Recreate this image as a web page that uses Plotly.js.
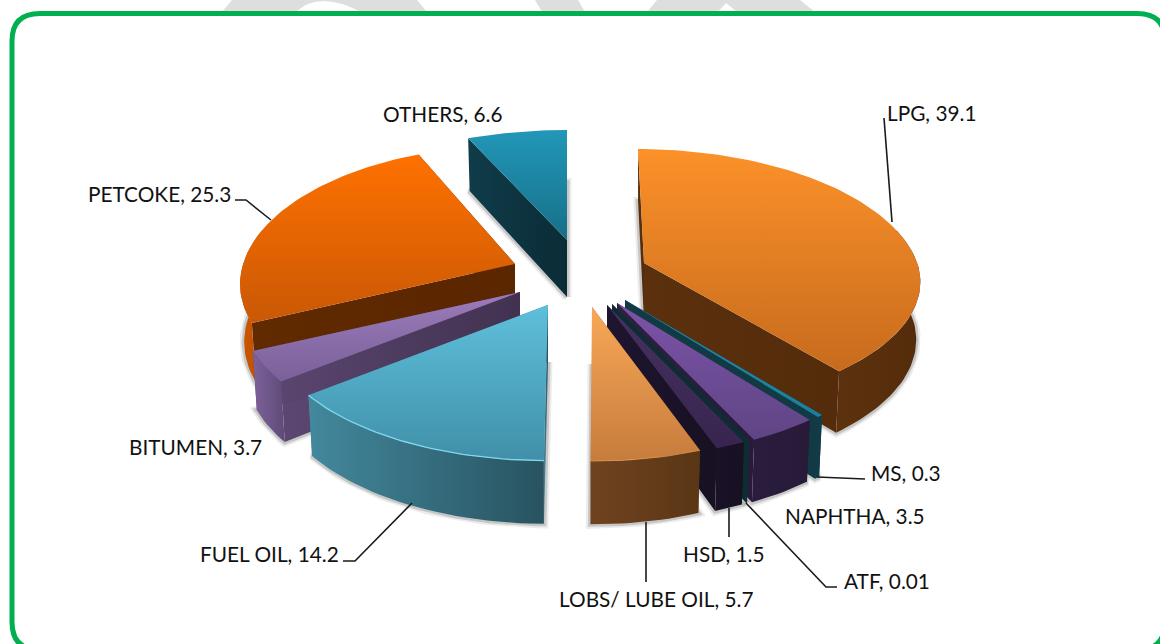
<!DOCTYPE html>
<html>
<head>
<meta charset="utf-8">
<script src="https://cdn.plot.ly/plotly-3.0.1.min.js"></script>
<style>html,body{margin:0;padding:0;background:#fff}#chart{width:1160px;height:644px}</style>
</head>
<body>
<div id="chart"></div>
<script>
const categories = ["LPG","MS","NAPHTHA","ATF","HSD","LOBS/ LUBE OIL","FUEL OIL","BITUMEN","PETCOKE","OTHERS"];
const values = [39.1,0.3,3.5,0.01,1.5,5.7,14.2,3.7,25.3,6.6];

// Where each exploded slice's tip sits, and small per-slice view corrections.
const placement = {
  "LPG":{ax:644,ay:263,leanUp:-6,leanDown:0,rx:0.99,up:1,down:0.94},
  "MS":{ax:625,ay:300,leanUp:0,leanDown:0,rx:1,up:1,down:1},
  "NAPHTHA":{ax:617,ay:303,leanUp:0,leanDown:0,rx:1,up:1,down:1},
  "ATF":{ax:612,ay:304,leanUp:0,leanDown:0,rx:1,up:1,down:1},
  "HSD":{ax:607,ay:305,leanUp:0,leanDown:0,rx:1,up:1,down:1},
  "LOBS/ LUBE OIL":{ax:592,ay:307,leanUp:0,leanDown:1.5,rx:0.97,up:1,down:1},
  "FUEL OIL":{ax:548,ay:305,leanUp:0,leanDown:-1,rx:1,up:1,down:1.01},
  "BITUMEN":{ax:520,ay:292,leanUp:0,leanDown:0,rx:1,up:1,down:1},
  "PETCOKE":{ax:515,ay:264,leanUp:0,leanDown:0,rx:0.985,up:1.04,down:1},
  "OTHERS":{ax:567,ay:240,leanUp:0,leanDown:0,rx:1.01,up:0.965,down:1}
};
const paint = {
  "LPG":{top:["#FC9129","#C76B1D"],rim:["#5C320E","#552C0B"],side:["#5A300D","#552C0B"],bevel:0,bevelColor:"#D98A3E"},
  "MS":{top:["#1F8FB0","#1A7F9C"],rim:["#113C47","#113C47"],side:["#123A45","#123A45"],bevel:0,bevelColor:"#1F8FB0"},
  "NAPHTHA":{top:["#7C53A8","#5F4585"],rim:["#2A1C3D","#281A38"],side:["#2F2044","#281A38"],bevel:0,bevelColor:"#7553A0"},
  "ATF":{top:["#1A5F6E","#154F5C"],rim:["#0B3036","#0B3036"],side:["#0C2E33","#0C2E33"],bevel:0,bevelColor:"#154F5C"},
  "HSD":{top:["#46315F","#38254F"],rim:["#1A1228","#171122"],side:["#1E1530","#171122"],bevel:0,bevelColor:"#38254F"},
  "LOBS/ LUBE OIL":{top:["#F9A858","#C67C3C"],rim:["#704320","#5A3615"],side:["#704320","#5A3615"],bevel:0.8,bevelColor:"#D9934F"},
  "FUEL OIL":{top:["#5EC0DB","#418FA8"],rim:["#43889D","#285360"],side:["#43889D","#285360"],bevel:1.3,bevelColor:"#7FD8EE"},
  "BITUMEN":{top:["#9C7CBA","#7A6099"],rim:["#7D629A","#5E4A78"],side:["#5C4772","#423250"],bevel:0,bevelColor:"#9074AE"},
  "PETCOKE":{top:["#FF7100","#C95805"],rim:["#CC5800","#B84E00"],side:["#612A00","#5A2600"],bevel:0,bevelColor:"#FF8A2A"},
  "OTHERS":{top:["#2297B8","#176F88"],rim:["#113D4B","#113D4B"],side:["#103C4A","#0A2C36"],bevel:0,bevelColor:"#2FA3C4"}
};
// Back-to-front paint order
const paintOrder = ["OTHERS","LPG","PETCOKE","MS","NAPHTHA","ATF","HSD","BITUMEN","LOBS/ LUBE OIL","FUEL OIL"];

// Pie geometry (perspective view of a circular disc)
const RX = 276, RY = 131, PERSP = 0.15, DEPTH = 57, DEPTH_S = 35, BOTTOM_SHRINK = 0.985;

const total = values.reduce((a,b)=>a+b,0);
const spans = {};
let running = 0;
categories.forEach((c,i)=>{
  const start = running/total*360;
  running += values[i];
  spans[c] = [start, running/total*360];
});

function pt(cat, deg, lower){
  const p = placement[cat], t = deg*Math.PI/180;
  const X = Math.sin(t), Y = Math.cos(t), s = 1/(1+PERSP*Y);
  let dx = RX*p.rx*X*s + (Y>0 ? p.leanUp*Y : -p.leanDown*Y);
  let dy = -RY*Y*s*(Y>0 ? p.up : p.down);
  if(lower){ dx *= BOTTOM_SHRINK; dy += DEPTH + DEPTH_S*(s-1); }
  return [p.ax+dx, p.ay+dy];
}
function tip(cat, lower){
  const p = placement[cat];
  return [p.ax, p.ay + (lower?DEPTH:0)];
}
function arc(cat, a, b, lower){
  const n = Math.max(2, Math.ceil(Math.abs(b-a)/1.5)+1), out = [];
  for(let i=0;i<n;i++) out.push(pt(cat, a+(b-a)*i/(n-1), lower));
  return out;
}
function poly(points, opts){
  const xs = points.map(q=>q[0]), ys = points.map(q=>q[1]);
  return Object.assign({type:"scatter",mode:"lines",x:xs.concat(xs[0]),y:ys.concat(ys[0]),
    fill:"toself",hoverinfo:"skip",showlegend:false,line:{width:0}},opts);
}
const vGrad = c => ({type:"vertical",colorscale:[[0,c[1]],[1,c[0]]]});
const hGrad = c => ({type:"horizontal",colorscale:[[0,c[0]],[1,c[1]]]});

const traces = [];
paintOrder.forEach(cat=>{
  const [a,b] = spans[cat], st = paint[cat];
  const bottomFace = [tip(cat,true)].concat(arc(cat,a,b,true));
  // soft drop shadow around the lower face
  traces.push(poly(bottomFace,{fillcolor:"rgba(0,0,0,0)",line:{width:9,color:"rgba(70,70,70,0.10)"}}));
  traces.push(poly(bottomFace,{fillcolor:"rgba(0,0,0,0)",line:{width:5,color:"rgba(70,70,70,0.22)"}}));
  // radial walls
  [a,b].forEach(e=>{
    traces.push(poly([tip(cat,false),pt(cat,e,false),pt(cat,e,true),tip(cat,true)],
      {fillgradient:hGrad(st.side)}));
  });
  // outer wall, front part only
  const ra = Math.max(a,75), rb = Math.min(b,285);
  if(rb>ra){
    const upper = arc(cat,ra,rb,false), lower = arc(cat,ra,rb,true).reverse();
    traces.push(poly(upper.concat(lower),{fillgradient:hGrad(st.rim)}));
  }
  // top face
  const rimPts = arc(cat,a,b,false);
  traces.push(poly([tip(cat,false)].concat(rimPts),{fillgradient:vGrad(st.top)}));
  // lit edge of the top face
  if(st.bevel>0) traces.push({type:"scatter",mode:"lines",x:rimPts.map(q=>q[0]),y:rimPts.map(q=>q[1]),
    hoverinfo:"skip",showlegend:false,line:{width:st.bevel,color:st.bevelColor}});
});

// Leader lines
const leaders = [
  [[884,118],[892,222]],
  [[235,200],[246,200],[271,220]],
  [[343,561],[355,561],[412,503]],
  [[646,522],[646,582]],
  [[729,508],[729,537]],
  [[746,503],[826,587],[837,587]],
  [[817,477],[865,479]]
];
leaders.forEach(l=>traces.push({type:"scatter",mode:"lines",x:l.map(q=>q[0]),y:l.map(q=>q[1]),
  hoverinfo:"skip",showlegend:false,line:{width:1.6,color:"#1a1a1a"}}));

// Label centres
const labelPos = {
  "LPG":[932,112.5],"MS":[906,472.5],"NAPHTHA":[855,515.5],"ATF":[887,580.5],"HSD":[724,553.5],
  "LOBS/ LUBE OIL":[656,598.5],"FUEL OIL":[269,553.5],"BITUMEN":[195,446.5],"PETCOKE":[159,193.5],"OTHERS":[443,113.5]
};
const annotations = categories.map((c,i)=>({
  x:labelPos[c][0],y:labelPos[c][1],xref:"x",yref:"y",text:c+", "+values[i],showarrow:false,
  xanchor:"center",yanchor:"middle",font:{family:"Lato, Carlito, sans-serif",size:20.8,color:"#111"}
}));

const grey = "#DEDEDE";
const shapes = [
  {type:"path",layer:"below",path:"M222,12 L232,0 L417,0 L427,12 L361,12 Q340,1 323,1 Q308,1 296,12 Z",fillcolor:grey,line:{width:0}},
  {type:"path",layer:"below",path:"M535,0 L578,0 L585,12 L542,12 Z",fillcolor:grey,line:{width:0}},
  {type:"path",layer:"below",path:"M657,0 L800,0 L815,12 L737,12 L726,3 L718,12 L647,12 Z",fillcolor:grey,line:{width:0}},
  {type:"path",layer:"below",path:"M40,13.5 L1137,13.5 Q1165,13.5 1165,41 L1165,622 Q1165,650 1137,650 L40,650 Q12,650 12,622 L12,41 Q12,13.5 40,13.5 Z",
   fillcolor:"rgba(0,0,0,0)",line:{width:5,color:"#00B050"}}
];

Plotly.newPlot("chart",traces,{
  width:1160,height:644,margin:{l:0,r:0,t:0,b:0,pad:0},
  paper_bgcolor:"#fff",plot_bgcolor:"#fff",showlegend:false,
  xaxis:{range:[0,1160],visible:false,fixedrange:true},
  yaxis:{range:[644,0],visible:false,fixedrange:true},
  shapes:shapes,annotations:annotations
},{displayModeBar:false,staticPlot:true});
</script>
</body>
</html>
